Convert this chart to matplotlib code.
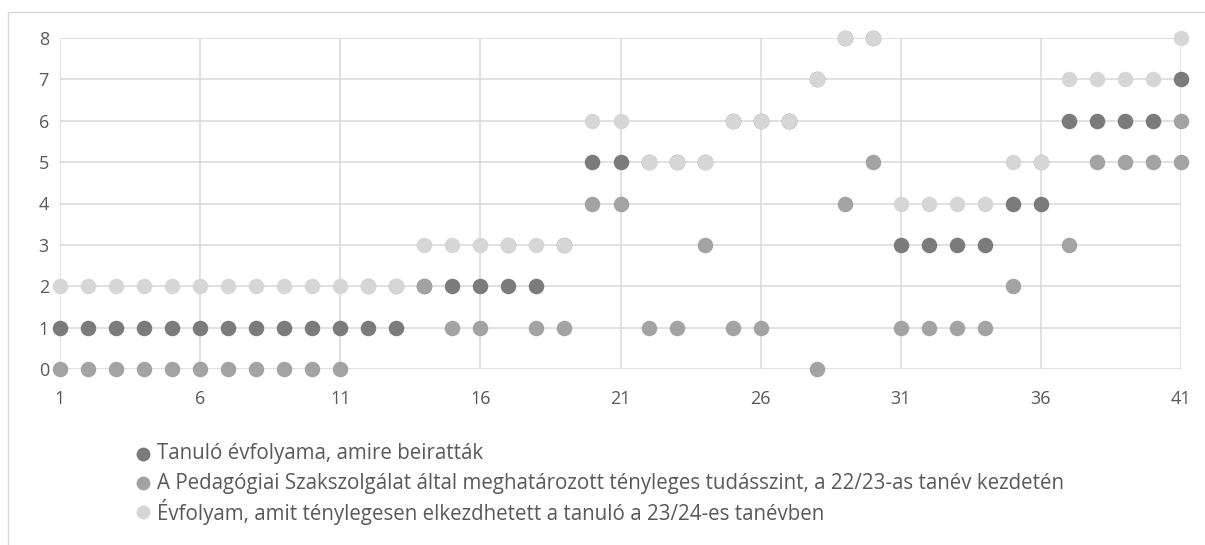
import matplotlib
matplotlib.use("Agg")
import matplotlib.pyplot as plt
from matplotlib.lines import Line2D
from matplotlib.patches import Rectangle

plt.rcParams['font.family'] = ['Open Sans', 'DejaVu Sans']

# Data
x_students = list(range(1, 42))
enrolled_grade = [1]*13 + [2]*5 + [3] + [5]*5 + [6]*3 + [7] + [8]*2 + [3]*4 + [4]*2 + [6]*4 + [7]
x_level = list(range(1, 42)) + [41]
actual_level = ([0]*11 + [2, 2, 2] + [1, 1] + [3] + [1, 1] + [4, 4] + [1, 1] + [3] + [1, 1] + [6]
                + [0] + [4] + [5] + [1]*4 + [2] + [5] + [3] + [5]*3 + [6] + [5])
started_grade = [2]*13 + [3]*6 + [6]*2 + [5]*3 + [6]*3 + [7] + [8]*2 + [4]*4 + [5]*2 + [7]*4 + [8]

labels = [
    "Tanuló évfolyama, amire beiratták",
    "A Pedagógiai Szakszolgálat által meghatározott tényleges tudásszint, a 22/23-as tanév kezdetén",
    "Évfolyam, amit ténylegesen elkezdhetett a tanuló a 23/24-es tanévben",
]
colors = ["#7b7b7b", "#a3a3a3", "#d6d6d6"]
x_ticks = [1, 6, 11, 16, 21, 26, 31, 36, 41]
y_ticks = list(range(0, 9))

W, H = 1205, 545
fig = plt.figure(figsize=(W/100, H/100), dpi=100)
fig.patch.set_facecolor("white")

# outer chart border
fig.add_artist(Rectangle((8/W, -0.05), 1.2, 1 - 12/H + 0.05, transform=fig.transFigure,
                         fill=False, edgecolor="#d9d9d9", lw=1.0))

ax = fig.add_axes([60/W, 1 - 369/H, (1181-60)/W, (369-38)/H])
ax.set_xlim(1, 41)
ax.set_ylim(0, 8)
for s in ax.spines.values():
    s.set_visible(False)
ax.set_xticks(x_ticks)
ax.set_yticks(y_ticks)
ax.grid(True, color="#d9d9d9", lw=1.1)
ax.set_axisbelow(True)
ax.tick_params(length=0, labelsize=13, colors="#595959")
ax.tick_params(axis='y', pad=8)
ax.tick_params(axis='x', pad=15)

ms = 125
ax.scatter(x_students, enrolled_grade, s=ms, color=colors[0], zorder=3, clip_on=False, linewidths=0)
ax.scatter(x_level, actual_level, s=ms, color=colors[1], zorder=4, clip_on=False, linewidths=0)
ax.scatter(x_students, started_grade, s=ms, color=colors[2], zorder=5, clip_on=False, linewidths=0)

# legend
ys = [454, 483, 512]
for lab, c, y in zip(labels, colors, ys):
    fig.add_artist(Line2D([143/W], [1 - y/H], marker='o', markersize=10, color=c,
                          markeredgewidth=0, transform=fig.transFigure))
    fig.text(157/W, 1 - y/H, lab, fontsize=14.8, color="#595959", va='center', ha='left')

fig.savefig("out.png", dpi=100, facecolor="white")
